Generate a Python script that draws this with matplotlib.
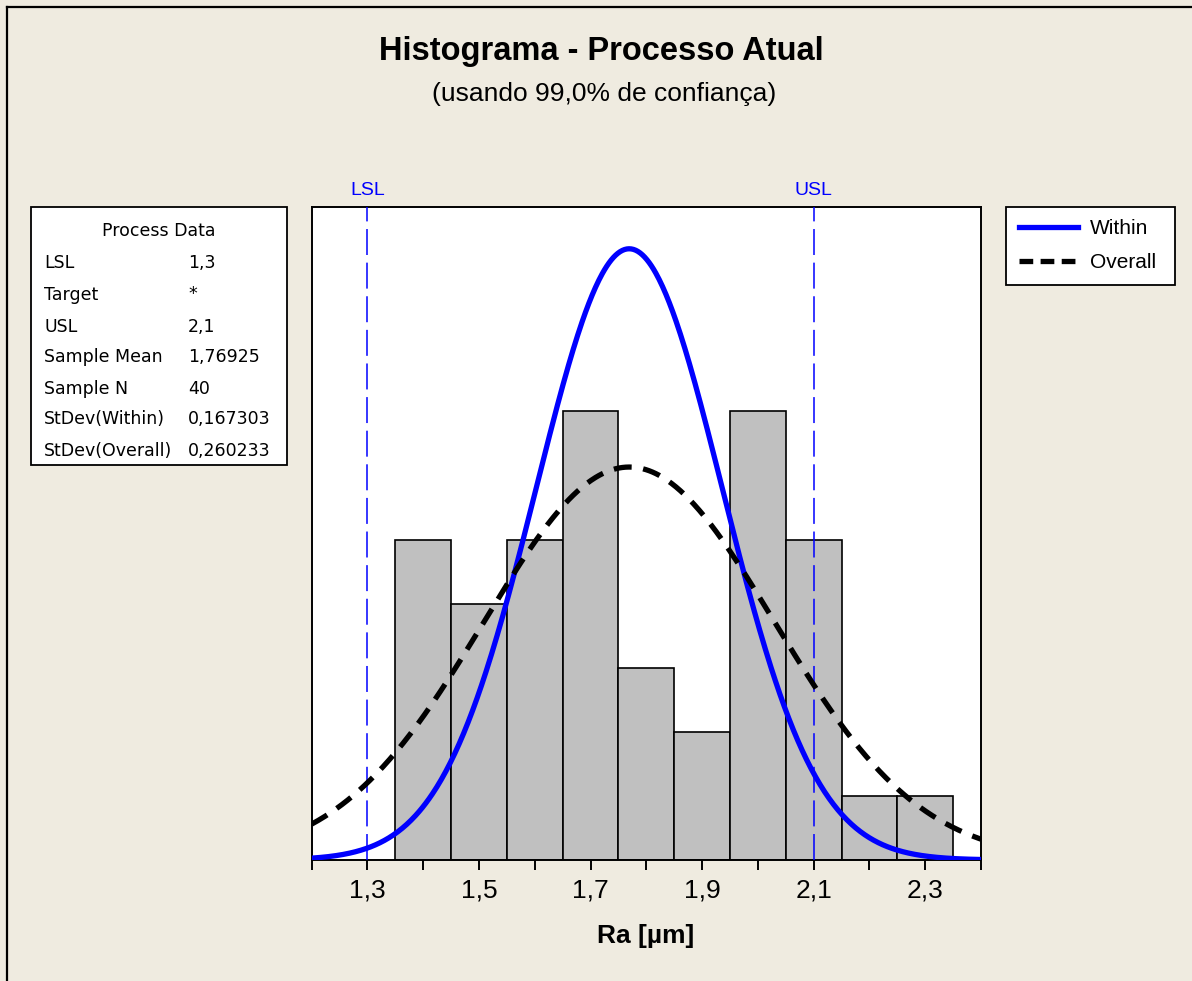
import numpy as np
import matplotlib
matplotlib.use("Agg")
import matplotlib.pyplot as plt
from matplotlib.patches import Rectangle
from matplotlib.lines import Line2D

# ---------------- data ----------------
bin_left = [1.35, 1.45, 1.55, 1.65, 1.75, 1.85, 1.95, 2.05, 2.15, 2.25]
counts = [5, 4, 5, 7, 3, 2, 7, 5, 1, 1]
bin_width = 0.1
lsl = 1.3
usl = 2.1
sample_mean = 1.76925
sample_n = 40
sd_within = 0.167303
sd_overall = 0.260233
major_ticks = [1.3, 1.5, 1.7, 1.9, 2.1, 2.3]
major_labels = ["1,3", "1,5", "1,7", "1,9", "2,1", "2,3"]
minor_ticks = [1.2, 1.4, 1.6, 1.8, 2.0, 2.2, 2.4]
pd_labels = ["LSL", "Target", "USL", "Sample Mean", "Sample N",
             "StDev(Within)", "StDev(Overall)"]
pd_values = ["1,3", "*", "2,1", "1,76925", "40", "0,167303", "0,260233"]

W, H = 1192, 981
BG = "#EFEBE0"
FONT = ["Liberation Sans", "DejaVu Sans"]
plt.rcParams["font.family"] = FONT


def fx(x):
    return x / W


def fy(y):
    return 1 - y / H


fig = plt.figure(figsize=(W / 100, H / 100), dpi=100, facecolor=BG)

# outer border (left and top)
fig.add_artist(Line2D([fx(7), fx(7)], [fy(7), 0], color="black", lw=1.6,
                      transform=fig.transFigure))
fig.add_artist(Line2D([fx(7), 1], [fy(7), fy(7)], color="black", lw=1.6,
                      transform=fig.transFigure))

# axes
ax_l, ax_r, ax_t, ax_b = 311.7, 981, 207, 860
ax = fig.add_axes([fx(ax_l), fy(ax_b), (ax_r - ax_l) / W, (ax_b - ax_t) / H])
ax.set_facecolor("white")

ax.bar(bin_left, counts, width=bin_width, align="edge", color="#C0C0C0",
       edgecolor="black", linewidth=1.2, zorder=2)

xs = np.linspace(1.2, 2.4, 600)
scale = sample_n * bin_width


def npdf(x, m, s):
    return np.exp(-0.5 * ((x - m) / s) ** 2) / (s * np.sqrt(2 * np.pi))


ax.plot(xs, scale * npdf(xs, sample_mean, sd_within), color="#0000FF",
        lw=3.8, zorder=4, solid_capstyle="butt")
ax.plot(xs, scale * npdf(xs, sample_mean, sd_overall), color="black",
        lw=3.8, dashes=(3.4, 2.2), zorder=4)

for v in (lsl, usl):
    ax.axvline(v, color="#0000FF", lw=1.1, dashes=(17, 5), zorder=3)

ax.set_xlim(1.2, 2.4)
ax.set_ylim(0, 10.19)
ax.set_yticks([])
ax.set_xticks(major_ticks)
ax.set_xticklabels(major_labels)
ax.set_xticks(minor_ticks, minor=True)
ax.tick_params(axis="x", which="both", length=7, width=1.4, color="black",
               direction="out")
ax.tick_params(axis="x", which="major", labelsize=19, pad=6)
for sp in ax.spines.values():
    sp.set_linewidth(1.4)
    sp.set_color("black")

# LSL / USL labels
ax.text(lsl, 1.0 + 8 / 654, "LSL", transform=ax.get_xaxis_transform(),
        ha="center", va="bottom", color="#0000FF", fontsize=14)
ax.text(usl, 1.0 + 8 / 654, "USL", transform=ax.get_xaxis_transform(),
        ha="center", va="bottom", color="#0000FF", fontsize=14)

# titles
fig.text(fx(601.5), fy(60), "Histograma - Processo Atual", ha="center",
         va="baseline", fontsize=23.5, fontweight="bold")
fig.text(fx(604), fy(101), "(usando 99,0% de confiança)", ha="center",
         va="baseline", fontsize=19)
fig.text(fx(646), fy(943), "Ra [µm]", ha="center", va="baseline",
         fontsize=19, fontweight="bold")

# process data box
PD_FONT = ["DejaVu Sans"]
fig.add_artist(Rectangle((fx(31), fy(465)), (287 - 31) / W, (465 - 207) / H,
                         transform=fig.transFigure, facecolor="white",
                         edgecolor="black", lw=1.3))
fig.text(fx(159), fy(235.5), "Process Data", ha="center", va="baseline",
         fontsize=12.5, family=PD_FONT)
row_y = [261, 293, 325, 356, 387, 418, 449]
for y, lab, val in zip(row_y, pd_labels, pd_values):
    fig.text(fx(44), fy(y + 6.5), lab, ha="left", va="baseline",
             fontsize=12.5, family=PD_FONT)
    fig.text(fx(188), fy(y + 6.5), val, ha="left", va="baseline",
             fontsize=12.5, family=PD_FONT)

# legend
handles = [Line2D([], [], color="#0000FF", lw=3.8),
           Line2D([], [], color="black", lw=3.8, dashes=(2.6, 1.4))]
leg = fig.legend(handles, ["Within", "Overall"], loc="upper left",
                 bbox_to_anchor=(fx(1006), fy(282), (1175 - 1006) / W,
                                 (282 - 207) / H),
                 mode="expand", borderaxespad=0,
                 fontsize=15, frameon=True, fancybox=False, framealpha=1,
                 edgecolor="black", handlelength=2.85, handletextpad=0.6,
                 borderpad=0.6, labelspacing=0.7)
leg.get_frame().set_linewidth(1.3)

fig.savefig("out.png", dpi=100, facecolor=BG)
